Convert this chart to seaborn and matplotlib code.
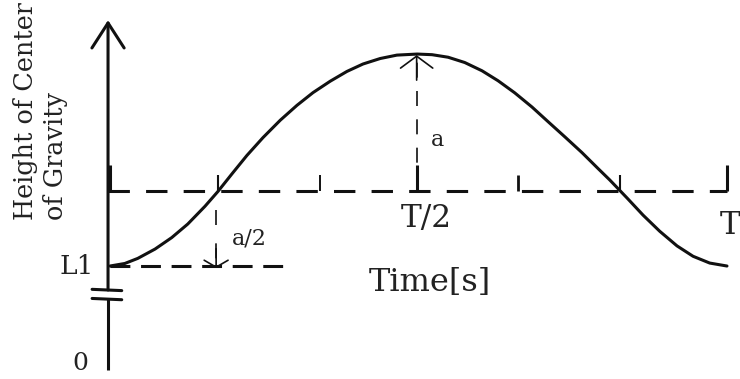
import pandas as pd
import matplotlib.pyplot as plt
import seaborn as sns

# curve: time in units of T, height with L1 = 1, peak = 2
time_pts = [0.0, 0.024, 0.045, 0.073, 0.100, 0.126, 0.154, 0.175, 0.198, 0.222,
            0.248, 0.276, 0.303, 0.329, 0.357, 0.384, 0.410, 0.438, 0.465, 0.498,
            0.522, 0.548, 0.575, 0.603, 0.629, 0.656, 0.684, 0.710, 0.737, 0.765,
            0.791, 0.810, 0.838, 0.864, 0.891, 0.919, 0.945, 0.972, 1.0]
height_pts = [1.0, 1.012, 1.036, 1.080, 1.134, 1.198, 1.282, 1.352, 1.436, 1.522,
              1.606, 1.688, 1.758, 1.818, 1.872, 1.918, 1.953, 1.979, 1.995, 2.0,
              1.997, 1.985, 1.960, 1.921, 1.874, 1.817, 1.750, 1.681, 1.610, 1.535,
              1.460, 1.406, 1.321, 1.240, 1.164, 1.095, 1.046, 1.014, 1.0]

L1 = 1.0
mid_level = 1.354
peak_level = 1.995
zero_level = 0.538

# ticks on the middle dashed line
tick_times = [0.0, 0.175, 0.340, 0.497, 0.661, 0.827, 1.0]
tick_tops = [1.476, 1.429, 1.429, 1.476, 1.429, 1.429, 1.476]
tick_widths = [2.2, 1.5, 1.4, 2.2, 2.0, 1.5, 2.2]

half_time = 0.497
a2_time = 0.172

sns.set_theme(style="white")
plt.rcParams['font.family'] = ['DejaVu Serif']

fig = plt.figure(figsize=(7.4, 3.79), dpi=100)
ax = fig.add_axes([0, 0, 1, 1])
ax.set_xlim(-0.1783, 1.0211)
ax.set_ylim(0.467, 2.255)
ax.axis('off')

df = pd.DataFrame({'time': time_pts, 'height': height_pts})
sns.lineplot(data=df, x='time', y='height', ax=ax, color='#111111', lw=2.2,
             sort=False, solid_joinstyle='round', solid_capstyle='round')

# vertical axis with break and open arrow
axis_x = -0.0032
ax.plot([axis_x, axis_x], [0.509, 0.844], color='#111111', lw=2.2, solid_capstyle='butt')
ax.annotate('', xy=(axis_x, 2.160), xytext=(axis_x, 0.887),
            arrowprops=dict(arrowstyle='->,head_length=0.9,head_width=0.58', lw=2.2,
                            color='#111111', shrinkA=0, shrinkB=0, mutation_scale=20))
for yb in [0.887, 0.844]:
    ax.plot([-0.029, 0.019], [yb + 0.003, yb - 0.003], color='#111111', lw=2.2)

# middle dashed line and its ticks
ax.plot([axis_x, 1.0], [mid_level, mid_level], color='#111111', lw=2.2,
        linestyle=(0, (7, 5.3)), dash_capstyle='butt')
for t, top, w in zip(tick_times, tick_tops, tick_widths):
    ax.plot([t, t], [mid_level, top], color='#111111', lw=w, solid_capstyle='butt')

# L1 dashed line
ax.plot([0.0, 0.280], [L1, L1], color='#111111', lw=2.2,
        linestyle=(0, (6.5, 3.5)), dash_capstyle='butt')

# amplitude arrow a
ax.plot([half_time, half_time], [mid_level, peak_level], color='#111111', lw=1.2,
        linestyle=(0, (9, 8)))
ax.annotate('', xy=(half_time, peak_level), xytext=(0, -18), textcoords='offset points',
            arrowprops=dict(arrowstyle='->,head_length=0.43,head_width=0.58', lw=1.2,
                            color='#111111', shrinkA=0, shrinkB=0, mutation_scale=20))

# arrow a/2
ax.plot([a2_time, a2_time], [1.264, L1], color='#111111', lw=1.2,
        linestyle=(0, (9, 11)))
ax.annotate('', xy=(a2_time, L1 - 0.01), xytext=(0, 14), textcoords='offset points',
            arrowprops=dict(arrowstyle='->,head_length=0.25,head_width=0.43', lw=1.2,
                            color='#111111', shrinkA=0, shrinkB=0, mutation_scale=20))

txt = dict(color='#222222')
ax.text(-0.0535, L1, 'L1', fontsize=19, ha='center', va='center', **txt)
ax.text(-0.0486, zero_level, '0', fontsize=18, ha='center', va='center', **txt)
ax.text(0.512, 1.222, 'T/2', fontsize=22.5, ha='center', va='center', **txt)
ax.text(0.989, 1.193, 'T', fontsize=22.5, ha='left', va='center', **txt)
ax.text(0.530, 1.594, 'a', fontsize=16, ha='center', va='center', **txt)
ax.text(0.225, 1.128, 'a/2', fontsize=16, ha='center', va='center', **txt)
ax.text(0.519, 0.920, 'Time[s]', fontsize=23, ha='center', va='center', **txt)
ax.text(-0.113, 1.217, 'Height of Center\nof Gravity', fontsize=18.4, rotation=90,
        ha='center', va='bottom', multialignment='left', linespacing=1.25, **txt)

plt.savefig('out.png', dpi=100)
plt.close()
